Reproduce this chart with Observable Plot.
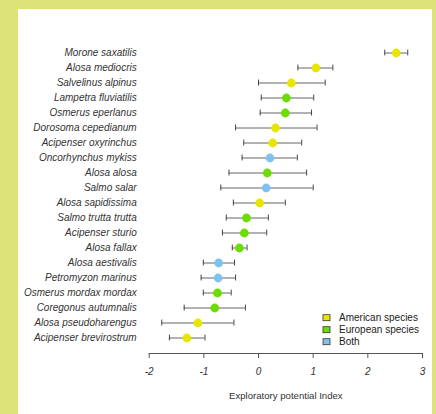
<!DOCTYPE html>
<html><head><meta charset="utf-8">
<script src="https://cdn.jsdelivr.net/npm/d3@7"></script>
<script src="https://cdn.jsdelivr.net/npm/@observablehq/plot@0.6"></script>
<style>
html,body{margin:0;padding:0;background:#dde279;width:436px;height:414px;overflow:hidden;}
#panel{position:absolute;left:18px;top:9px;width:414px;height:405px;background:#fff;}
#chart{position:absolute;left:0;top:0;}
#legend{position:absolute;left:0;top:0;}
</style></head>
<body>
<div id="panel"></div>
<div id="chart"></div>
<svg id="legend" width="436" height="414"></svg>
<script>
const species = ["Morone saxatilis","Alosa mediocris","Salvelinus alpinus","Lampetra fluviatilis","Osmerus eperlanus","Dorosoma cepedianum","Acipenser oxyrinchus","Oncorhynchus mykiss","Alosa alosa","Salmo salar","Alosa sapidissima","Salmo trutta trutta","Acipenser sturio","Alosa fallax","Alosa aestivalis","Petromyzon marinus","Osmerus mordax mordax","Coregonus autumnalis","Alosa pseudoharengus","Acipenser brevirostrum"];
const origin = ["American","American","American","European","European","American","American","Both","European","Both","American","European","European","European","Both","Both","European","European","American","American"];
const index = [2.52,1.05,0.60,0.51,0.49,0.31,0.26,0.21,0.16,0.14,0.02,-0.22,-0.26,-0.35,-0.73,-0.74,-0.75,-0.80,-1.11,-1.31];
const lower = [2.31,0.72,0.00,0.05,0.03,-0.42,-0.27,-0.30,-0.54,-0.69,-0.46,-0.59,-0.66,-0.48,-1.01,-1.05,-1.01,-1.36,-1.77,-1.63];
const upper = [2.73,1.36,1.22,1.01,0.97,1.07,0.79,0.71,0.88,1.00,0.49,0.18,0.15,-0.21,-0.44,-0.42,-0.50,-0.24,-0.45,-0.98];
const xTicks = [-2,-1,0,1,2,3];
const groups = ["American","European","Both"];
const legendLabels = ["American species","European species","Both"];
const groupColors = ["#e6e600","#6ade00","#80c2ee"];
const xTitle = "Exploratory potential Index";

const data = species.map((s,i)=>({species:s, origin:origin[i], index:index[i], lower:lower[i], upper:upper[i]}));

const plot = Plot.plot({
  width: 436, height: 414,
  marginLeft: 148.7, marginRight: 14, marginTop: 44.14, marginBottom: 67.44,
  style: {background: "transparent", fontFamily: "'Liberation Sans', Arial, sans-serif", color: "#333"},
  x: {domain: [-2, 3]},
  y: {type: "band", domain: species, padding: 0},
  color: {domain: groups, range: groupColors},
  marks: [
    Plot.ruleY(data, {y: "species", x1: "lower", x2: "upper", stroke: "#666", strokeWidth: 1}),
    Plot.tickX(data, {y: "species", x: "lower", stroke: "#444", insetTop: 4.56, insetBottom: 4.56}),
    Plot.tickX(data, {y: "species", x: "upper", stroke: "#444", insetTop: 4.56, insetBottom: 4.56}),
    Plot.dot(data, {y: "species", x: "index", fill: "origin", r: 4.4}),
    Plot.axisY({tickSize: 0, tickPadding: 12.5, fontStyle: "italic", fontSize: 10, label: null, fill: "#333"}),
    Plot.axisX({ticks: xTicks, tickFormat: d => String(d), tickSize: 5, tickPadding: 9, dy: 6.44, fontStyle: "italic", fontSize: 10, label: null, stroke: "#555", fill: "#333"}),
    Plot.frame({anchor: "bottom", dy: 6.44, stroke: "#555"}),
    Plot.text([xTitle], {frameAnchor: "bottom", dy: 51.5, fontSize: 9.6, fill: "#333"})
  ]
});
document.getElementById("chart").appendChild(plot);

const lg = d3.select("#legend");
legendLabels.forEach((lab,i)=>{
  const cy = 317.7 + i*12;
  lg.append("rect").attr("x",323).attr("y",cy-3).attr("width",7).attr("height",6)
    .attr("fill",groupColors[i]).attr("stroke","#333").attr("stroke-width",0.8);
  lg.append("text").attr("x",339).attr("y",cy).attr("dy","0.35em")
    .attr("font-family","'Liberation Sans', Arial, sans-serif").attr("font-size",10).attr("fill","#222").text(lab);
});
</script>
</body></html>
